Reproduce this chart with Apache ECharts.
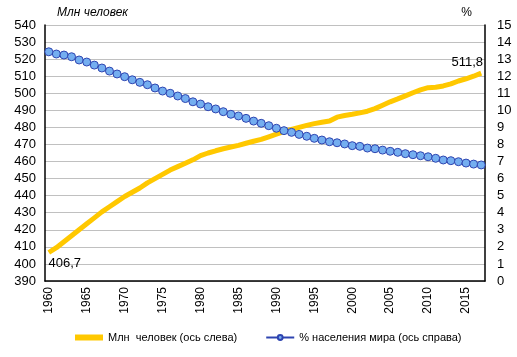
<!DOCTYPE html>
<html><head><meta charset="utf-8">
<script src="https://cdn.jsdelivr.net/npm/echarts@6/dist/echarts.min.js"></script>
<style>html,body{margin:0;padding:0;background:#fff}#c{width:517px;height:357px}</style>
</head><body><div id="c"></div>
<script>
const years = [];
for (let y = 1960; y <= 2017; y++) years.push(String(y));
const popMln = [406.7,409.5,413,416.5,420,423.5,427,430.5,433.5,436.5,
 439.5,442,444.5,447.5,450,452.5,455,457,459,461,
 463.5,465,466.3,467.5,468.5,469.5,470.7,471.9,473,474.5,
 476,477.5,478.8,480,481.2,482.2,483,483.7,486,487,
 487.7,488.5,489.5,491,493,495,496.7,498.5,500.3,502,
 503.3,503.5,504.3,505.5,507.2,508.5,510,511.8];
const worldShare = [13.43,13.30,13.24,13.14,12.95,12.83,12.65,12.48,12.30,12.13,
 11.97,11.79,11.64,11.50,11.31,11.13,11.00,10.84,10.69,10.50,
 10.37,10.21,10.08,9.92,9.77,9.67,9.53,9.37,9.24,9.10,
 8.95,8.81,8.71,8.59,8.48,8.36,8.26,8.16,8.10,8.03,
 7.93,7.89,7.79,7.75,7.67,7.60,7.54,7.46,7.40,7.34,
 7.28,7.19,7.09,7.05,6.99,6.91,6.85,6.80];
const seriesNames = ['Млн  человек (ось слева)', '% населения мира (ось справа)'];
const leftName = 'Млн человек', rightName = '%';

const fmt = v => String(v).replace('.', ',');
const popData = popMln.map((v, i) => {
  if (i === 0) return {value: v, label: {show: true, position: 'bottom', distance: 4, offset: [16, 0], formatter: p => fmt(p.value)}};
  if (i === popMln.length - 1) return {value: v, label: {show: true, position: 'top', distance: 4, offset: [-14, 0], formatter: p => fmt(p.value)}};
  return v;
});

const chart = echarts.init(document.getElementById('c'), null, {renderer: 'canvas'});
const font = '"Liberation Sans", Arial, sans-serif';
chart.setOption({
  animation: false,
  textStyle: {fontFamily: font, color: '#000'},
  grid: {left: 45, right: 32, top: 25, bottom: 76},
  legend: {
    bottom: 9, left: 70, itemGap: 28, itemWidth: 28, itemHeight: 6,
    textStyle: {fontFamily: font, fontSize: 11, color: '#000'},
    data: [
      {name: seriesNames[0], icon: 'rect', itemStyle: {color: '#FFC800'}},
      {name: seriesNames[1]}
    ]
  },
  xAxis: {
    type: 'category', data: years, boundaryGap: true,
    axisLine: {lineStyle: {color: '#000', width: 1.5}},
    axisTick: {show: false},
    axisLabel: {show: true, interval: 4, rotate: 90, fontSize: 12, color: '#000', fontFamily: font, margin: 6}
  },
  yAxis: [
    {type: 'value', min: 390, max: 540, interval: 10, position: 'left',
     name: leftName, nameLocation: 'end', nameGap: 6,
     nameTextStyle: {fontStyle: 'italic', fontSize: 12, align: 'left', padding: [0, 0, 0, 12], color: '#000', fontFamily: font},
     axisLine: {show: true, lineStyle: {color: '#000', width: 1.5}},
     axisTick: {show: false},
     axisLabel: {fontSize: 13, color: '#000', fontFamily: font, margin: 9},
     splitLine: {lineStyle: {color: '#c0c0c0', width: 1}}},
    {type: 'value', min: 0, max: 15, interval: 1, position: 'right',
     name: rightName, nameLocation: 'end', nameGap: 6,
     nameTextStyle: {fontSize: 12, align: 'right', padding: [0, 13, 0, 0], color: '#000', fontFamily: font},
     axisLine: {show: true, lineStyle: {color: '#000', width: 1.5}},
     axisTick: {show: false},
     axisLabel: {fontSize: 13, color: '#000', fontFamily: font, margin: 12},
     splitLine: {show: false}}
  ],
  series: [
    {name: seriesNames[0], type: 'line', yAxisIndex: 0, data: popData,
     symbol: 'circle', symbolSize: 0, showSymbol: true, showAllSymbol: true,
     lineStyle: {color: '#FFC800', width: 5}, itemStyle: {color: '#FFC800'},
     label: {fontSize: 13, color: '#000', fontFamily: font}, z: 2},
    {name: seriesNames[1], type: 'line', yAxisIndex: 1, data: worldShare,
     symbol: 'circle', symbolSize: 8, showSymbol: true, showAllSymbol: true,
     lineStyle: {color: '#2E44B0', width: 1},
     itemStyle: {color: '#74AEF0', borderColor: '#2E44B0', borderWidth: 1}, z: 3}
  ]
});
</script></body></html>
